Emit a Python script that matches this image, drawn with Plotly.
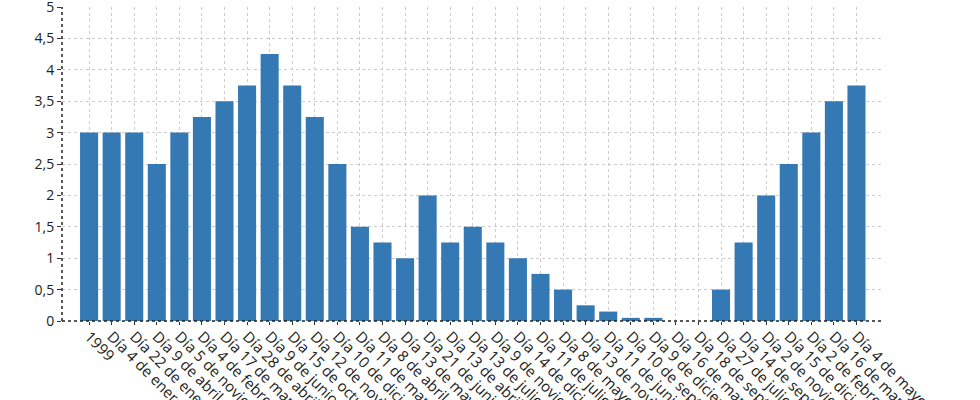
import plotly.graph_objects as go

categories = [
    "1999", "Día 4 de enero", "Día 22 de enero", "Día 9 de abril", "Día 5 de noviembre",
    "Día 4 de febrero", "Día 17 de marzo", "Día 28 de abril", "Día 9 de junio",
    "Día 15 de octubre", "Día 12 de noviembre", "Día 10 de diciembre", "Día 11 de marzo",
    "Día 8 de abril", "Día 13 de mayo", "Día 21 de junio", "Día 13 de abril",
    "Día 13 de julio", "Día 9 de noviembre", "Día 14 de diciembre", "Día 11 de julio",
    "Día 8 de mayo", "Día 13 de noviembre", "Día 11 de junio", "Día 10 de septiembre",
    "Día 9 de diciembre", "Día 16 de marzo", "Día 18 de septiembre", "Día 27 de julio",
    "Día 14 de septiembre", "Día 2 de noviembre", "Día 15 de diciembre",
    "Día 2 de febrero", "Día 16 de marzo ", "Día 4 de mayo",
]
values = [
    3.0, 3.0, 3.0, 2.5, 3.0,
    3.25, 3.5, 3.75, 4.25,
    3.75, 3.25, 2.5, 1.5,
    1.25, 1.0, 2.0, 1.25,
    1.5, 1.25, 1.0, 0.75,
    0.5, 0.25, 0.15, 0.05,
    0.05, 0.0, 0.0, 0.5,
    1.25, 2.0, 2.5,
    3.0, 3.5, 3.75,
]
y_ticks = [0, 0.5, 1, 1.5, 2, 2.5, 3, 3.5, 4, 4.5, 5]

bar_color = "#3478b4"
family = "Open Sans, Noto Sans, sans-serif"
font = dict(family=family, size=15, color="#222222")

fig = go.Figure(go.Bar(
    x=list(range(len(categories))), y=values,
    marker=dict(color=bar_color, line=dict(width=0)),
    width=0.8,
))

n = len(categories)
fig.update_layout(
    width=980, height=400,
    margin=dict(l=62, r=96, t=7, b=79),
    paper_bgcolor="white", plot_bgcolor="white",
    separators=",.",
    showlegend=False,
    font=font,
)
fig.update_xaxes(
    range=[-1.2, n - 1 + 1.22],
    tickmode="array", tickvals=list(range(n)), ticktext=categories,
    tickangle=45, automargin=False, ticklabeloverflow="allow",
    ticklabelstandoff=-3,
    showgrid=True, gridcolor="#cccccc", griddash="dot", gridwidth=1,
    ticks="outside", ticklen=3, tickcolor="#333333",
    showline=False, zeroline=False,
    tickfont=font,
)
fig.update_yaxes(
    range=[0, 5], automargin=False, ticklabeloverflow="allow",
    tickmode="array", tickvals=y_ticks,
    showgrid=True, gridcolor="#cccccc", griddash="dot", gridwidth=1,
    ticks="outside", ticklen=4, tickcolor="#333333",
    showline=False, zeroline=False,
    tickfont=dict(family=family, size=14, color="#222222"),
)
# dotted axis lines
fig.add_shape(type="line", xref="paper", yref="paper", x0=0, x1=0, y0=0, y1=1,
              line=dict(color="#222222", width=1.5, dash="dot"))
fig.add_shape(type="line", xref="paper", yref="paper", x0=0, x1=1, y0=0, y1=0,
              line=dict(color="#222222", width=1.5, dash="dot"))

fig.write_html("out.html", config={"displayModeBar": False},
               post_script="document.body.style.margin='0';document.body.style.overflow='hidden';")
